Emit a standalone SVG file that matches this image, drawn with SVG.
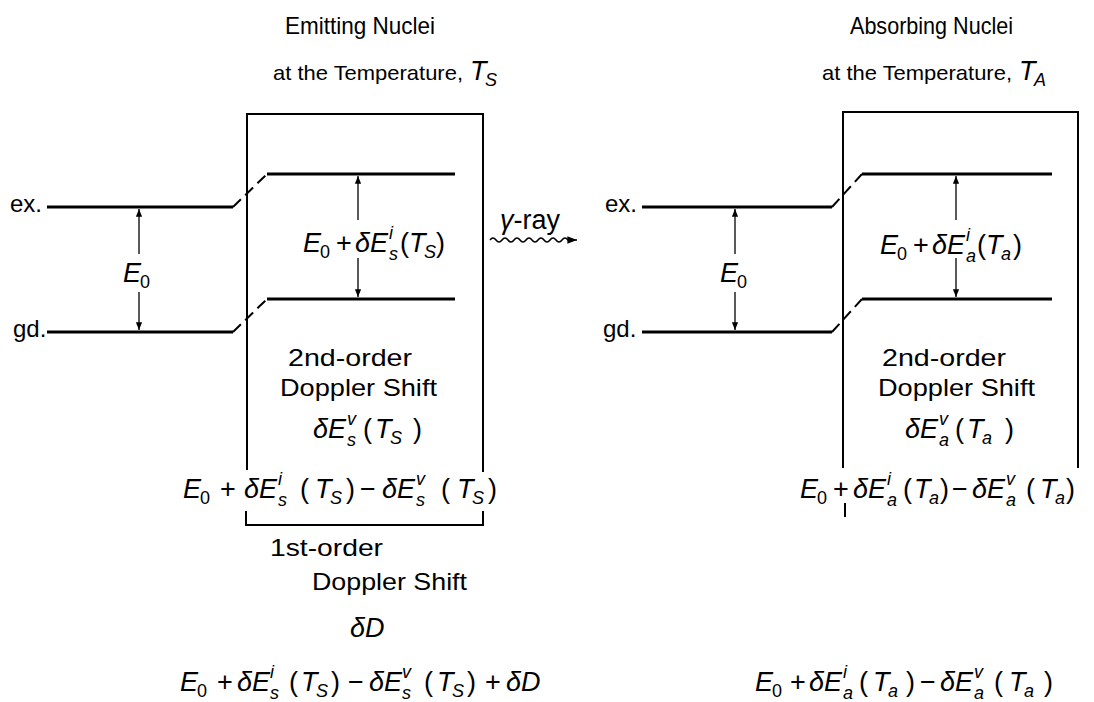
<svg xmlns="http://www.w3.org/2000/svg" width="1094" height="702" viewBox="0 0 1094 702">
<style>
text{font-family:"Liberation Sans",Arial,sans-serif;fill:#000}
.t{font-size:24px}
.h{font-size:21px}
.m{font-size:27px}
.i{font-style:italic}
.sb{font-size:18px}
.lvl{stroke:#000;stroke-width:3;fill:none}
.box{stroke:#000;stroke-width:2;fill:none}
.dsh{stroke:#000;stroke-width:2;fill:none;stroke-dasharray:11 6}
.arr{stroke:#000;stroke-width:1.3;fill:none;marker-end:url(#ah)}
</style>
<defs>
<marker id="ah" viewBox="0 0 10 10" refX="10" refY="5" markerWidth="7" markerHeight="6" orient="auto"><path d="M0,1 L10,5 L0,9 z" fill="#000"/></marker>
</defs>
<rect width="1094" height="702" fill="#fff"/>

<g id="emitting">
<text class="t" x="285" y="34" textLength="150" lengthAdjust="spacingAndGlyphs">Emitting Nuclei</text>
<text class="h" x="273" y="80" textLength="190" lengthAdjust="spacingAndGlyphs">at the Temperature,</text>
<text class="m"><tspan class="i" x="470" y="80">T</tspan><tspan class="sb i" x="485" y="86">S</tspan></text>
<path class="box" d="M247,470 V114 H483 V472"/>
<path class="box" d="M246,511 V525 H483 V511"/>
<text class="t" x="10" y="212">ex.</text>
<text class="t" x="13" y="337">gd.</text>
<path class="lvl" d="M47,207 H233 M267,174 H455 M47,332 H233 M267,299 H455"/>
<path class="dsh" d="M233,207 L267,174 M233,332 L267,299"/>
<text class="m"><tspan class="i" x="123" y="282">E</tspan><tspan class="sb" x="140" y="288">0</tspan></text>
<text class="m"><tspan class="i" x="303" y="252">E</tspan><tspan class="sb" x="320" y="258">0</tspan><tspan x="336" y="252">+</tspan><tspan class="i" x="355" y="252">δE</tspan><tspan class="sb i" x="389" y="239">i</tspan><tspan class="sb i" x="389" y="260">s</tspan><tspan x="400" y="252">(</tspan><tspan class="i" x="409" y="252">T</tspan><tspan class="sb i" x="424" y="258">S</tspan><tspan x="436" y="252">)</tspan></text>
<text class="t" x="288" y="366" textLength="124" lengthAdjust="spacingAndGlyphs">2nd-order</text>
<text class="t" x="280" y="396" textLength="157" lengthAdjust="spacingAndGlyphs">Doppler Shift</text>
<text class="m"><tspan class="i" x="313" y="438">δE</tspan><tspan class="sb i" x="347" y="425">v</tspan><tspan class="sb i" x="347" y="446">s</tspan><tspan x="363" y="438">(</tspan><tspan class="i" x="375" y="438">T</tspan><tspan class="sb i" x="390" y="444">S</tspan><tspan x="413" y="438">)</tspan></text>
<text class="m"><tspan class="i" x="183" y="498">E</tspan><tspan class="sb" x="200" y="504">0</tspan><tspan x="220" y="498">+</tspan><tspan class="i" x="244" y="498">δE</tspan><tspan class="sb i" x="278" y="485">i</tspan><tspan class="sb i" x="278" y="506">s</tspan><tspan x="300" y="498">(</tspan><tspan class="i" x="315" y="498">T</tspan><tspan class="sb i" x="330" y="504">S</tspan><tspan x="346" y="498">)</tspan><tspan x="360" y="498">−</tspan><tspan class="i" x="382" y="498">δE</tspan><tspan class="sb i" x="416" y="485">v</tspan><tspan class="sb i" x="416" y="506">s</tspan><tspan x="441" y="498">(</tspan><tspan class="i" x="457" y="498">T</tspan><tspan class="sb i" x="472" y="504">S</tspan><tspan x="488" y="498">)</tspan></text>
<text class="t" x="270" y="556" textLength="113" lengthAdjust="spacingAndGlyphs">1st-order</text>
<text class="t" x="312" y="590" textLength="155" lengthAdjust="spacingAndGlyphs">Doppler Shift</text>
<text class="m i" x="350" y="637">δD</text>
<text class="m"><tspan class="i" x="180" y="691">E</tspan><tspan class="sb" x="197" y="697">0</tspan><tspan x="217" y="691">+</tspan><tspan class="i" x="237" y="691">δE</tspan><tspan class="sb i" x="270" y="678">i</tspan><tspan class="sb i" x="270" y="699">s</tspan><tspan x="289" y="691">(</tspan><tspan class="i" x="301" y="691">T</tspan><tspan class="sb i" x="316" y="697">S</tspan><tspan x="331" y="691">)</tspan><tspan x="348" y="691">−</tspan><tspan class="i" x="369" y="691">δE</tspan><tspan class="sb i" x="402" y="678">v</tspan><tspan class="sb i" x="402" y="699">s</tspan><tspan x="424" y="691">(</tspan><tspan class="i" x="437" y="691">T</tspan><tspan class="sb i" x="452" y="697">S</tspan><tspan x="467" y="691">)</tspan><tspan x="485" y="691">+</tspan><tspan class="i" x="506" y="691">δD</tspan></text>
</g>

<g id="gamma-label">
<text class="m" x="500" y="229"><tspan class="i">γ</tspan>-ray</text>
</g>

<g id="absorbing">
<text class="t" x="850" y="34" textLength="163" lengthAdjust="spacingAndGlyphs">Absorbing Nuclei</text>
<text class="h" x="822" y="80" textLength="190" lengthAdjust="spacingAndGlyphs">at the Temperature,</text>
<text class="m"><tspan class="i" x="1019" y="80">T</tspan><tspan class="sb i" x="1034" y="86">A</tspan></text>
<path class="box" d="M843,468 V112 H1078 V468"/>
<path class="box" d="M845,503 V517"/>
<text class="t" x="605" y="212">ex.</text>
<text class="t" x="603" y="337">gd.</text>
<path class="lvl" d="M642,207 H832 M862,174 H1052 M642,332 H832 M862,299 H1052"/>
<path class="dsh" d="M832,207 L862,174 M832,332 L862,299"/>
<text class="m"><tspan class="i" x="720" y="282">E</tspan><tspan class="sb" x="737" y="288">0</tspan></text>
<text class="m"><tspan class="i" x="880" y="254">E</tspan><tspan class="sb" x="897" y="260">0</tspan><tspan x="913" y="254">+</tspan><tspan class="i" x="932" y="254">δE</tspan><tspan class="sb i" x="966" y="241">i</tspan><tspan class="sb i" x="966" y="262">a</tspan><tspan x="977" y="254">(</tspan><tspan class="i" x="986" y="254">T</tspan><tspan class="sb i" x="1001" y="260">a</tspan><tspan x="1013" y="254">)</tspan></text>
<text class="t" x="882" y="366" textLength="124" lengthAdjust="spacingAndGlyphs">2nd-order</text>
<text class="t" x="878" y="396" textLength="157" lengthAdjust="spacingAndGlyphs">Doppler Shift</text>
<text class="m"><tspan class="i" x="905" y="438">δE</tspan><tspan class="sb i" x="939" y="425">v</tspan><tspan class="sb i" x="939" y="446">a</tspan><tspan x="955" y="438">(</tspan><tspan class="i" x="967" y="438">T</tspan><tspan class="sb i" x="982" y="444">a</tspan><tspan x="1005" y="438">)</tspan></text>
<text class="m"><tspan class="i" x="800" y="498">E</tspan><tspan class="sb" x="817" y="504">0</tspan><tspan x="833" y="498">+</tspan><tspan class="i" x="853" y="498">δE</tspan><tspan class="sb i" x="887" y="485">i</tspan><tspan class="sb i" x="887" y="506">a</tspan><tspan x="903" y="498">(</tspan><tspan class="i" x="914" y="498">T</tspan><tspan class="sb i" x="929" y="504">a</tspan><tspan x="940" y="498">)</tspan><tspan x="952" y="498">−</tspan><tspan class="i" x="972" y="498">δE</tspan><tspan class="sb i" x="1006" y="485">v</tspan><tspan class="sb i" x="1006" y="506">a</tspan><tspan x="1026" y="498">(</tspan><tspan class="i" x="1040" y="498">T</tspan><tspan class="sb i" x="1055" y="504">a</tspan><tspan x="1066" y="498">)</tspan></text>
<text class="m"><tspan class="i" x="755" y="691">E</tspan><tspan class="sb" x="772" y="697">0</tspan><tspan x="790" y="691">+</tspan><tspan class="i" x="809" y="691">δE</tspan><tspan class="sb i" x="843" y="678">i</tspan><tspan class="sb i" x="843" y="699">a</tspan><tspan x="859" y="691">(</tspan><tspan class="i" x="873" y="691">T</tspan><tspan class="sb i" x="888" y="697">a</tspan><tspan x="906" y="691">)</tspan><tspan x="920" y="691">−</tspan><tspan class="i" x="940" y="691">δE</tspan><tspan class="sb i" x="974" y="678">v</tspan><tspan class="sb i" x="974" y="699">a</tspan><tspan x="994" y="691">(</tspan><tspan class="i" x="1009" y="691">T</tspan><tspan class="sb i" x="1024" y="697">a</tspan><tspan x="1044" y="691">)</tspan></text>
</g>

<g id="connectors">
<path class="arr" d="M139,254 V209"/>
<path class="arr" d="M139,292 V330"/>
<path class="arr" d="M358,220 V176"/>
<path class="arr" d="M358,258 V297"/>
<path class="arr" d="M735,254 V209"/>
<path class="arr" d="M735,292 V330"/>
<path class="arr" d="M956,220 V176"/>
<path class="arr" d="M956,258 V297"/>
<path class="arr" d="M490,240 q3,-4 6,0 t6,0 t6,0 t6,0 t6,0 t6,0 t6,0 t6,0 t6,0 t6,0 t6,0 t6,0 t6,0 L577,240" style="stroke-width:1.6"/>
</g>
</svg>
